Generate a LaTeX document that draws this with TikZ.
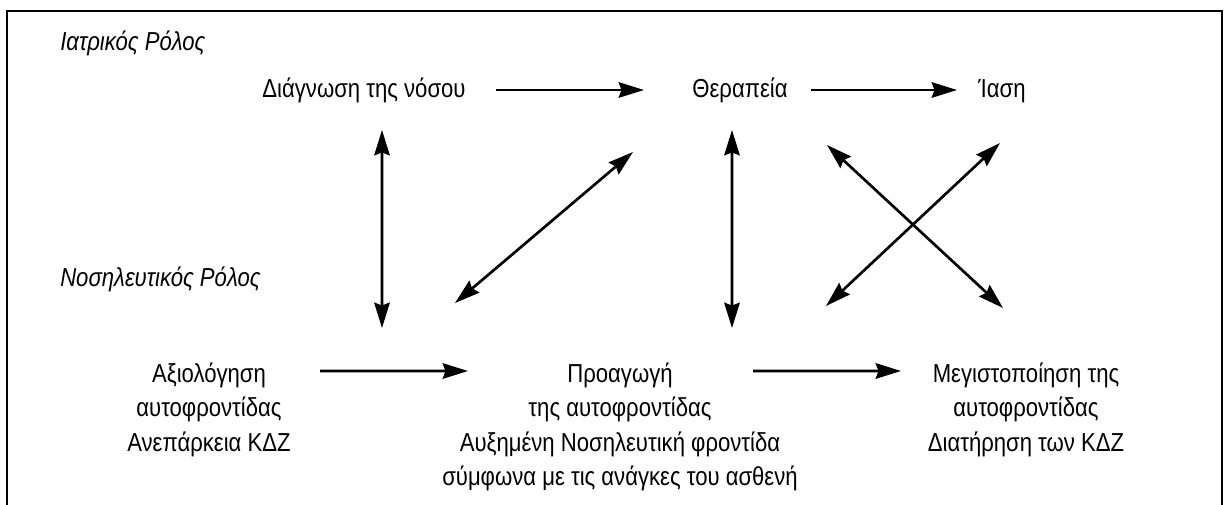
\documentclass[tikz,border=0pt]{standalone}
\usepackage{fontspec}
\setmainfont{Liberation Sans}[FakeStretch=0.85]
\usetikzlibrary{arrows.meta,calc}

\begin{document}
\begin{tikzpicture}[>={Stealth[length=18pt,width=11pt,inset=2pt]},
 txt/.style={inner sep=0pt,align=center,anchor=base,font=\fontsize{18.5}{24.5}\selectfont},
 role/.style={inner sep=0pt,anchor=base west,font=\fontsize{18.5}{24.5}\selectfont\itshape},
 lnk/.style={line width=1.9pt}]
\useasboundingbox (0,0) rectangle (30.675,12.6);
% frame, open at the bottom
\draw[line width=1pt] (0.175,-0.2) -- (0.175,12.325) -- (30.55,12.325) -- (30.55,-0.2);
\node[role] (med) at (1.5,11.35) {Ιατρικός Ρόλος};
\node[role] (nurse) at (1.5,5.45) {Νοσηλευτικός Ρόλος};
\node[txt] (diag) at (9.1,10.175) {Διάγνωση της νόσου};
\node[txt] (ther) at (18.5,10.175) {Θεραπεία};
\node[txt] (cure) at (25.05,10.175) {Ίαση};
% base = last line of the block
\node[txt] (assess) at (5.225,1.3214) {Αξιολόγηση\\αυτοφροντίδας\\Ανεπάρκεια ΚΔΖ};
\node[txt] (promo) at (15.5,0.457) {Προαγωγή\\της αυτοφροντίδας\\Αυξημένη Νοσηλευτική φροντίδα\\σύμφωνα με τις ανάγκες του ασθενή};
\node[txt] (maxim) at (25.65,1.3214) {Μεγιστοποίηση της\\αυτοφροντίδας\\Διατήρηση των ΚΔΖ};
\draw[lnk,->] ([xshift=3.3cm,yshift=0.175cm]diag.base) -- ([xshift=-2.4cm,yshift=0.175cm]ther.base);
\draw[lnk,->] ([xshift=1.775cm,yshift=0.175cm]ther.base) -- ([xshift=-1.125cm,yshift=0.175cm]cure.base);
\draw[lnk,->] ([xshift=2.775cm,yshift=2.004cm]assess.base) -- ([xshift=-3.8cm,yshift=2.8675cm]promo.base);
\draw[lnk,->] ([xshift=3.325cm,yshift=2.8675cm]promo.base) -- ([xshift=-3.125cm,yshift=2.004cm]maxim.base);
\draw[lnk,<->] ([xshift=0.45cm,yshift=-0.825cm]diag.base) -- ([xshift=4.325cm,yshift=3.079cm]assess.base);
\draw[lnk,<->] ([xshift=-0.2cm,yshift=-0.825cm]ther.base) -- ([xshift=2.8cm,yshift=3.9425cm]promo.base);
\draw[lnk,<->] ([xshift=-2.675cm,yshift=-1.375cm]ther.base) -- ([xshift=-4.125cm,yshift=4.5675cm]promo.base);
\draw[lnk,<->] ([xshift=2.175cm,yshift=-1.2cm]ther.base) -- ([xshift=-0.575cm,yshift=3.579cm]maxim.base);
\draw[lnk,<->] ([xshift=5.15cm,yshift=4.4925cm]promo.base) -- ([xshift=-0.05cm,yshift=-1.15cm]cure.base);
\end{tikzpicture}
\end{document}
